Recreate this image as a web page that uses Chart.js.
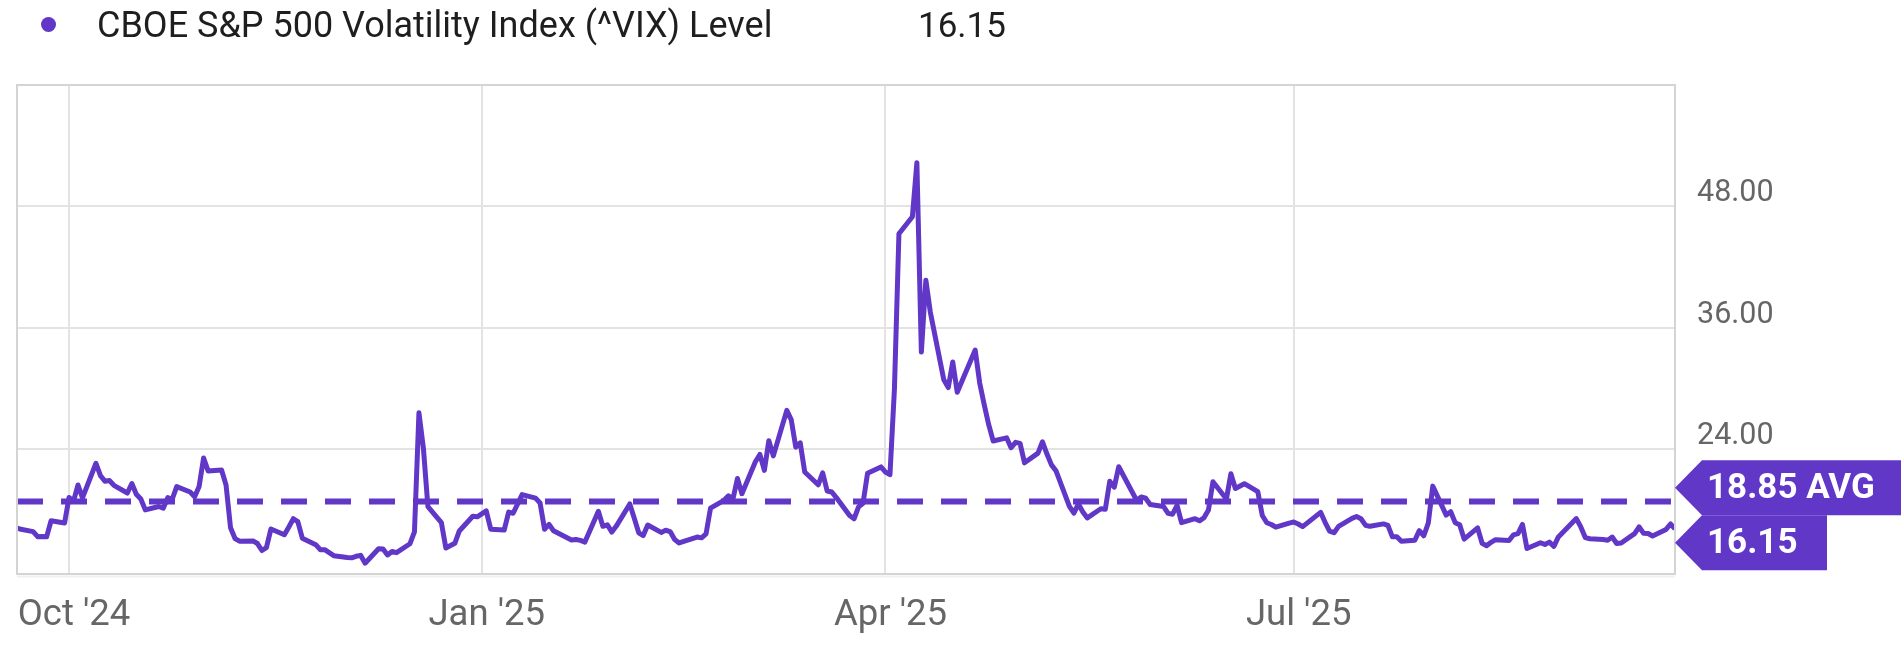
<!DOCTYPE html>
<html>
<head>
<meta charset="utf-8">
<script src="https://cdn.jsdelivr.net/npm/chart.js@4.4.1/dist/chart.umd.min.js"></script>
<style>
  html, body { margin: 0; padding: 0; background: #fff; }
  #wrap { position: relative; width: 1901px; height: 658px; font-family: Roboto, "Noto Sans", sans-serif; }
  #vix-plot { position: absolute; left: 0; top: 0; }
  #legend { position: absolute; left: 0; top: 0; height: 54px; width: 1200px; color: #1e1e1e; }
  #legend .dot { position: absolute; left: 41px; top: 17px; width: 15px; height: 15px; border-radius: 50%; background: #6037c7; }
  #legend .name { position: absolute; left: 97px; top: 4px; white-space: nowrap; font-size: 36px; }
  #legend .val { position: absolute; left: 918px; top: 5px; font-size: 35px; }
</style>
</head>
<body>
<div id="wrap">
  <canvas id="vix-plot" width="1901" height="658"></canvas>
  <div id="legend">
    <span class="dot"></span>
    <span class="name" id="legend-name"></span>
    <span class="val" id="legend-val"></span>
  </div>
</div>
<script>
let series_name = "CBOE S&P 500 Volatility Index (^VIX) Level"

// daily closes
let trade_dates = [
  '2024-09-19','2024-09-20','2024-09-23','2024-09-24','2024-09-25','2024-09-26','2024-09-27','2024-09-30',
  '2024-10-01','2024-10-02','2024-10-03','2024-10-04','2024-10-07','2024-10-08','2024-10-09','2024-10-10','2024-10-11',
  '2024-10-14','2024-10-15','2024-10-16','2024-10-17','2024-10-18','2024-10-21','2024-10-22','2024-10-23','2024-10-24',
  '2024-10-25','2024-10-28','2024-10-29','2024-10-30','2024-10-31',
  '2024-11-01','2024-11-04','2024-11-05','2024-11-06','2024-11-07','2024-11-08','2024-11-11','2024-11-12','2024-11-13',
  '2024-11-14','2024-11-15','2024-11-18','2024-11-19','2024-11-20','2024-11-21','2024-11-22','2024-11-25','2024-11-26',
  '2024-11-27','2024-11-29',
  '2024-12-02','2024-12-03','2024-12-04','2024-12-05','2024-12-06','2024-12-09','2024-12-10','2024-12-11','2024-12-12',
  '2024-12-13','2024-12-16','2024-12-17','2024-12-18','2024-12-19','2024-12-20','2024-12-23','2024-12-24','2024-12-26',
  '2024-12-27','2024-12-30','2024-12-31',
  '2025-01-02','2025-01-03','2025-01-06','2025-01-07','2025-01-08','2025-01-10','2025-01-13','2025-01-14','2025-01-15',
  '2025-01-16','2025-01-17','2025-01-21','2025-01-22','2025-01-23','2025-01-24','2025-01-27','2025-01-28','2025-01-29',
  '2025-01-30','2025-01-31',
  '2025-02-03','2025-02-04','2025-02-05','2025-02-06','2025-02-07','2025-02-10','2025-02-11','2025-02-12','2025-02-13',
  '2025-02-14','2025-02-18','2025-02-19','2025-02-20','2025-02-21','2025-02-24','2025-02-25','2025-02-26','2025-02-27',
  '2025-02-28',
  '2025-03-03','2025-03-04','2025-03-05','2025-03-06','2025-03-07','2025-03-10','2025-03-11','2025-03-12','2025-03-13',
  '2025-03-14','2025-03-17','2025-03-18','2025-03-19','2025-03-20','2025-03-21','2025-03-24','2025-03-25','2025-03-26',
  '2025-03-27','2025-03-28','2025-03-31',
  '2025-04-01','2025-04-02','2025-04-03','2025-04-04','2025-04-07','2025-04-08','2025-04-09','2025-04-10','2025-04-11',
  '2025-04-14','2025-04-15','2025-04-16','2025-04-17','2025-04-21','2025-04-22','2025-04-23','2025-04-24','2025-04-25',
  '2025-04-28','2025-04-29','2025-04-30',
  '2025-05-01','2025-05-02','2025-05-05','2025-05-06','2025-05-07','2025-05-08','2025-05-09','2025-05-12','2025-05-13',
  '2025-05-14','2025-05-15','2025-05-16','2025-05-19','2025-05-20','2025-05-21','2025-05-22','2025-05-23','2025-05-27',
  '2025-05-28','2025-05-29','2025-05-30',
  '2025-06-02','2025-06-03','2025-06-04','2025-06-05','2025-06-06','2025-06-09','2025-06-10','2025-06-11','2025-06-12',
  '2025-06-13','2025-06-16','2025-06-17','2025-06-18','2025-06-20','2025-06-23','2025-06-24','2025-06-25','2025-06-26',
  '2025-06-27','2025-06-30',
  '2025-07-01','2025-07-02','2025-07-03','2025-07-07','2025-07-08','2025-07-09','2025-07-10','2025-07-11','2025-07-14',
  '2025-07-15','2025-07-16','2025-07-17','2025-07-18','2025-07-21','2025-07-22','2025-07-23','2025-07-24','2025-07-25',
  '2025-07-28','2025-07-29','2025-07-30','2025-07-31',
  '2025-08-01','2025-08-04','2025-08-05','2025-08-06','2025-08-07','2025-08-08','2025-08-11','2025-08-12','2025-08-13',
  '2025-08-14','2025-08-15','2025-08-18','2025-08-19','2025-08-20','2025-08-21','2025-08-22','2025-08-25','2025-08-26',
  '2025-08-27','2025-08-28','2025-08-29',
  '2025-09-02','2025-09-03','2025-09-04','2025-09-05','2025-09-08','2025-09-09','2025-09-10','2025-09-11','2025-09-12',
  '2025-09-15','2025-09-16','2025-09-17','2025-09-18','2025-09-19','2025-09-22','2025-09-23','2025-09-24'
]
let vix_levels = [
  16.33, 16.15, 15.89, 15.39, 15.41, 15.37, 16.96, 16.73,
  19.26, 18.90, 20.49, 19.21, 22.64, 21.42, 20.86, 20.93, 20.46,
  19.70, 20.64, 19.58, 19.11, 18.03, 18.37, 18.20, 19.24, 19.08,
  20.33, 19.80, 19.34, 20.35, 23.16,
  21.88, 21.98, 20.49, 16.27, 15.20, 14.94, 14.97, 14.71, 14.02,
  14.31, 16.14, 15.58, 16.35, 17.16, 16.87, 15.24, 14.60, 14.10,
  14.10, 13.51,
  13.34, 13.30, 13.45, 13.54, 12.77, 14.19, 14.18, 13.58, 13.92,
  13.81, 14.69, 15.87, 27.62, 24.09, 18.36, 16.78, 14.27, 14.73,
  15.95, 17.40, 17.35,
  17.93, 16.13, 16.04, 17.82, 17.70, 19.54, 19.19, 18.71, 16.12,
  16.60, 15.97, 15.06, 15.10, 15.02, 14.85, 17.90, 16.41, 16.56,
  15.84, 16.43,
  18.62, 17.21, 15.77, 15.50, 16.54, 15.81, 16.02, 15.89, 15.10,
  14.77, 15.35, 15.27, 15.66, 18.21, 18.98, 19.43, 19.10, 21.13,
  19.63,
  22.78, 23.51, 21.93, 24.87, 23.37, 27.86, 26.92, 24.23, 24.66,
  21.77, 20.51, 21.70, 19.90, 19.80, 19.28, 17.48, 17.15, 18.33,
  18.69, 21.65, 22.28,
  21.77, 21.51, 30.02, 45.31, 46.98, 52.33, 33.62, 40.72, 37.56,
  30.89, 30.12, 32.64, 29.65, 33.82, 30.57, 28.45, 26.47, 24.84,
  25.15, 24.17, 24.70,
  24.60, 22.68, 23.64, 24.76, 23.55, 22.48, 21.90, 18.39, 17.72,
  18.62, 17.83, 17.24, 18.14, 18.09, 20.87, 20.28, 22.29, 18.96,
  19.31, 19.18, 18.57,
  18.36, 17.69, 17.61, 18.48, 16.77, 17.16, 16.95, 17.26, 18.02,
  20.82, 19.11, 21.60, 20.14, 20.62, 19.83, 17.48, 16.76, 16.59,
  16.32, 16.73,
  16.83, 16.64, 16.38, 17.79, 16.81, 15.94, 15.78, 16.40, 17.20,
  17.38, 17.16, 16.52, 16.41, 16.65, 16.50, 15.37, 15.39, 14.93,
  15.03, 15.98, 15.48, 16.72,
  20.38, 17.52, 17.85, 16.77, 16.57, 15.15, 16.25, 14.73, 14.49,
  14.83, 15.09, 15.00, 15.57, 15.69, 16.60, 14.22, 14.79, 14.62,
  14.85, 14.43, 15.36,
  17.17, 16.35, 15.30, 15.18, 15.11, 15.04, 15.35, 14.71, 14.76,
  15.69, 16.36, 15.72, 15.70, 15.45, 16.10, 16.64, 16.15
]
let avg_level = 18.85
let last_level = 16.15

let x_tick_dates = ['2024-10-01', '2025-01-01', '2025-04-01', '2025-07-01']
let x_tick_labels = ["Oct '24", "Jan '25", "Apr '25", "Jul '25"]
let y_tick_values = [24, 36, 48]

let vix_color = '#6037c7'
let day_ms = 24 * 3600 * 1000
let day_zero = Date.UTC(2024, 9, 1)

function to_day(s) {
    let p = s.split('-').map(Number)
    return (Date.UTC(p[0], p[1] - 1, p[2]) - day_zero) / day_ms
}

let vix_points = trade_dates.map((d, i) => ({x: to_day(d), y: vix_levels[i]}))
let x_min = to_day(trade_dates[0]) + 0.4
let x_max = to_day(trade_dates[trade_dates.length - 1])
let avg_points = [{x: x_min, y: avg_level}, {x: x_max, y: avg_level}]
let x_tick_days = x_tick_dates.map(to_day)

document.getElementById('legend-name').textContent = series_name
document.getElementById('legend-val').textContent = last_level.toFixed(2)

// plot frame round the chart area
let frame_plugin = {
    id: 'frame',
    afterDraw(chart) {
        let a = chart.chartArea
        let ctx = chart.ctx
        ctx.save()
        ctx.strokeStyle = '#d4d4d4'
        ctx.lineWidth = 2
        ctx.strokeRect(a.left, a.top, a.right - a.left, a.bottom - a.top)
        ctx.strokeStyle = 'rgba(0,0,0,0.06)'
        ctx.beginPath()
        ctx.moveTo(a.left, a.bottom + 2.5)
        ctx.lineTo(a.right, a.bottom + 2.5)
        ctx.stroke()
        ctx.restore()
    }
}

function draw_badge(ctx, x, yc, w, h, text) {
    let tip = 27
    ctx.beginPath()
    ctx.moveTo(x, yc)
    ctx.lineTo(x + tip, yc - h / 2)
    ctx.lineTo(x + w, yc - h / 2)
    ctx.lineTo(x + w, yc + h / 2)
    ctx.lineTo(x + tip, yc + h / 2)
    ctx.closePath()
    ctx.fillStyle = vix_color
    ctx.fill()
    ctx.fillStyle = '#fff'
    ctx.fillText(text, x + 32, yc + 1)
}

// value badges on the right axis, pushed apart when they collide
let badge_plugin = {
    id: 'badges',
    afterDraw(chart) {
        let ys = chart.scales.y
        let a = chart.chartArea
        let ctx = chart.ctx
        let h = 55
        let y_avg = ys.getPixelForValue(avg_level)
        let y_last = ys.getPixelForValue(last_level)
        if (Math.abs(y_last - y_avg) < h) {
            let mid = (y_avg + y_last) / 2
            let s = y_avg < y_last ? 1 : -1
            y_avg = mid - s * h / 2
            y_last = mid + s * h / 2
        }
        ctx.save()
        ctx.font = 'bold 35px Roboto'
        ctx.textBaseline = 'middle'
        ctx.textAlign = 'left'
        draw_badge(ctx, a.right, y_avg, chart.width - a.right, h, avg_level.toFixed(2) + ' AVG')
        draw_badge(ctx, a.right, y_last, 152, h, last_level.toFixed(2))
        ctx.restore()
    }
}

document.addEventListener("DOMContentLoaded", () => {
    Chart.defaults.font.family = 'Roboto'
    Chart.defaults.plugins.legend.display = false
    Chart.defaults.plugins.tooltip.enabled = false

    let vix_ctx = document.getElementById('vix-plot')
    new Chart(vix_ctx, {
        type: 'line',
        data: {
            datasets: [{
                data: vix_points,
                borderColor: vix_color,
                borderWidth: 5,
                borderJoinStyle: 'round',
                pointRadius: 0,
                tension: 0,
            }, {
                data: avg_points,
                borderColor: vix_color,
                borderWidth: 6,
                borderDash: [26, 18],
                pointRadius: 0,
            }]
        },
        options: {
            responsive: false,
            animation: false,
            devicePixelRatio: 1,
            layout: {padding: {left: 17, top: 85, right: 0, bottom: 0}},
            scales: {
                x: {
                    type: 'linear',
                    min: x_min,
                    max: x_max,
                    afterBuildTicks: (s) => { s.ticks = x_tick_days.map(v => ({value: v})) },
                    afterFit: (s) => { s.height = 84; s.paddingLeft = 0; s.paddingRight = 0 },
                    grid: {color: '#e3e3e3', lineWidth: 2, drawTicks: false},
                    border: {display: false},
                    ticks: {
                        autoSkip: false,
                        maxRotation: 0,
                        padding: 20,
                        labelOffset: 5,
                        color: '#666',
                        font: {size: 36.5},
                        callback: (v, i) => x_tick_labels[i],
                    },
                },
                y: {
                    position: 'right',
                    min: 11.7,
                    max: 60,
                    afterBuildTicks: (s) => { s.ticks = y_tick_values.map(v => ({value: v})) },
                    afterFit: (s) => { s.width = 226 },
                    grid: {color: '#e3e3e3', lineWidth: 2, drawTicks: false},
                    border: {display: false},
                    ticks: {
                        padding: 22,
                        labelOffset: -13,
                        color: '#666',
                        font: {size: 30.5},
                        callback: (v) => v.toFixed(2),
                    },
                },
            },
        },
        plugins: [frame_plugin, badge_plugin],
    })
})
</script>
</body>
</html>
